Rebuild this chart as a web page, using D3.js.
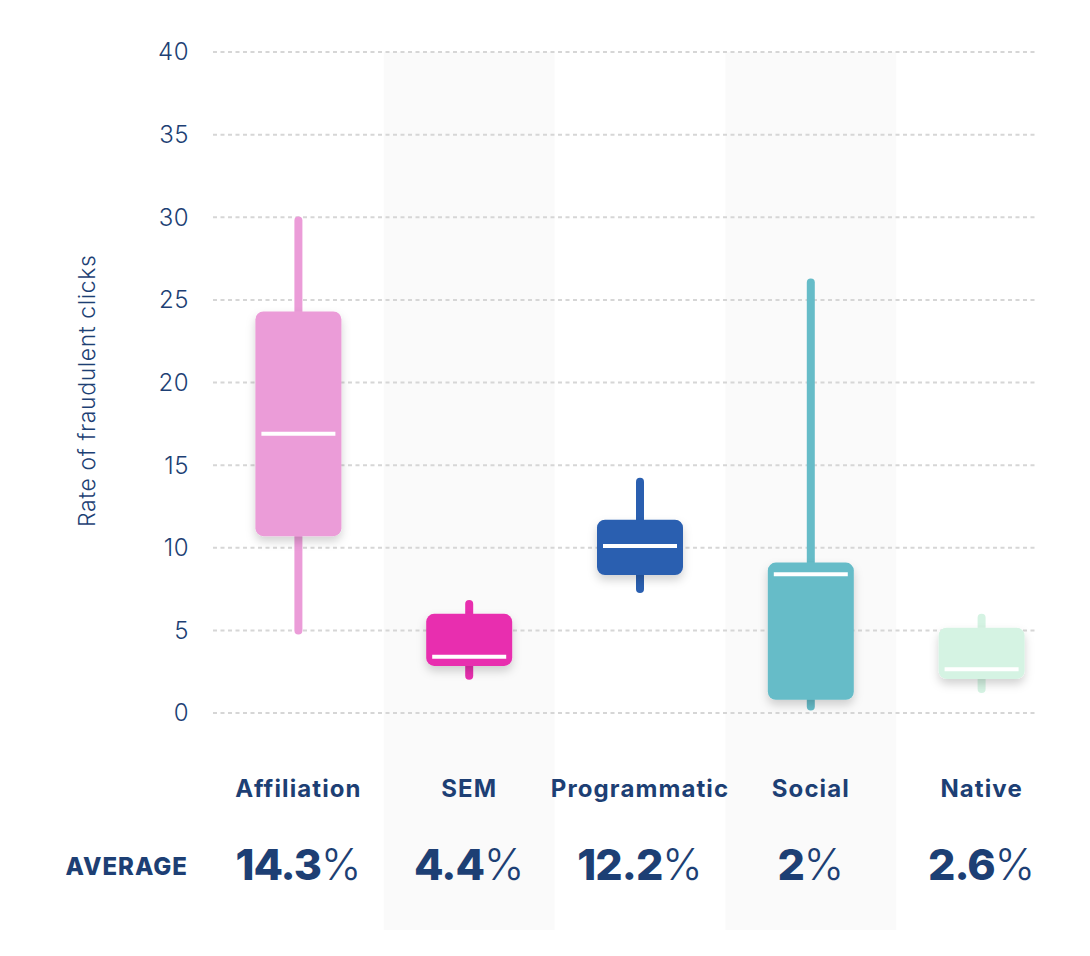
<html>
  <head>
    <title>Rate of fraudulent clicks</title>
    <script src="https://cdn.jsdelivr.net/npm/d3@7"></script>
    <style type="text/css">

body {
  margin: 0;
  background: #fff;
  font-family: Inter, "Open Sans", sans-serif;
}

.grid line {
  stroke: #d6d6d6;
  stroke-width: 2px;
  stroke-dasharray: 4 3.5;
}

.tick-label {
  fill: #1d3f74;
  font-size: 24px;
  font-weight: 300;
  letter-spacing: 0.5px;
}

.cat {
  fill: #1d3f74;
  font-size: 24px;
  font-weight: 700;
  letter-spacing: 1.1px;
}

.avg {
  fill: #1d3f74;
  font-size: 43px;
  font-weight: 800;
  letter-spacing: -1px;
}

.avg tspan.pct {
  font-weight: 300;
  letter-spacing: 0;
}

    </style>
  </head>
  <body>
    <script type="text/javascript">

var categories = ["Affiliation", "SEM", "Programmatic", "Social", "Native"];
var whiskerLow  = [5.0, 2.25, 7.5, 0.4, 1.45];
var boxLow      = [10.7, 2.85, 8.35, 0.8, 2.06];
var median      = [16.9, 3.4, 10.1, 8.4, 2.64];
var boxHigh     = [24.3, 6.0, 11.7, 9.1, 5.16];
var whiskerHigh = [29.8, 6.6, 14.0, 26.05, 5.77];
var averages    = ["14.3", "4.4", "12.2", "2", "2.6"];
var colors      = ["#eb9cd8", "#e82faf", "#2a5fb0", "#66bcc8", "#d5f3e3"];
var yTicks      = [0, 5, 10, 15, 20, 25, 30, 35, 40];

var data = categories.map(function(c, i) {
  return {name: c, lo: whiskerLow[i], q1: boxLow[i], med: median[i],
          q3: boxHigh[i], hi: whiskerHigh[i], avg: averages[i], color: colors[i]};
});

var w = 1090,
    h = 956,
    x = d3.scaleBand().domain(categories).range([213, 1067]).padding(0),
    y = d3.scaleLinear().domain([0, 40]).range([713, 52]),
    boxW = 86;

var svg = d3.select("body")
  .append("svg")
    .attr("width", w)
    .attr("height", h);

var defs = svg.append("defs");
var f = defs.append("filter")
    .attr("id", "shadow")
    .attr("x", "-30%").attr("y", "-30%")
    .attr("width", "160%").attr("height", "160%");
f.append("feDropShadow")
    .attr("dx", 0).attr("dy", 5)
    .attr("stdDeviation", 5)
    .attr("flood-color", "#000")
    .attr("flood-opacity", 0.18);

// alternating shaded columns
svg.selectAll("rect.band")
    .data(data.filter(function(d, i) { return i % 2 === 1; }))
  .enter().append("rect")
    .attr("class", "band")
    .attr("x", function(d) { return x(d.name); })
    .attr("y", y(40))
    .attr("width", x.bandwidth())
    .attr("height", 930 - y(40))
    .attr("fill", "#fafafa");

// grid
var grid = svg.append("g").attr("class", "grid");
grid.selectAll("line")
    .data(yTicks)
  .enter().append("line")
    .attr("x1", 213)
    .attr("x2", 1035)
    .attr("y1", y)
    .attr("y2", y);

svg.selectAll("text.tick-label")
    .data(yTicks)
  .enter().append("text")
    .attr("class", "tick-label")
    .attr("x", 189)
    .attr("y", y)
    .attr("dy", ".35em")
    .attr("text-anchor", "end")
    .text(function(d) { return d; });

svg.append("text")
    .attr("class", "tick-label")
    .attr("transform", "translate(95," + y(19.5) + ") rotate(-90)")
    .attr("text-anchor", "middle")
    .style("font-size", "23px")
    .style("letter-spacing", "0.6px")
    .text("Rate of fraudulent clicks");

// boxes
var g = svg.selectAll("g.box")
    .data(data)
  .enter().append("g")
    .attr("class", "box")
    .attr("transform", function(d) { return "translate(" + (x(d.name) + x.bandwidth() / 2) + ",0)"; });

g.append("line")
    .attr("x1", 0).attr("x2", 0)
    .attr("y1", function(d) { return y(d.lo); })
    .attr("y2", function(d) { return y(d.hi); })
    .attr("stroke", function(d) { return d.color; })
    .attr("stroke-width", 8)
    .attr("stroke-linecap", "round");

g.append("rect")
    .attr("x", -boxW / 2)
    .attr("y", function(d) { return y(d.q3); })
    .attr("width", boxW)
    .attr("height", function(d) { return y(d.q1) - y(d.q3); })
    .attr("rx", 8)
    .attr("fill", function(d) { return d.color; })
    .attr("filter", "url(#shadow)");

g.append("line")
    .attr("x1", -boxW / 2 + 6).attr("x2", boxW / 2 - 6)
    .attr("y1", function(d) { return y(d.med); })
    .attr("y2", function(d) { return y(d.med); })
    .attr("stroke", "#fff")
    .attr("stroke-width", 4);

// category labels
g.append("text")
    .attr("class", "cat")
    .attr("y", 797)
    .attr("text-anchor", "middle")
    .text(function(d) { return d.name; });

// averages
var avg = g.append("text")
    .attr("class", "avg")
    .attr("y", 880)
    .attr("text-anchor", "middle");
avg.append("tspan").text(function(d) { return d.avg; });
avg.append("tspan").attr("class", "pct").text("%");

svg.append("text")
    .attr("class", "cat")
    .attr("x", 188)
    .attr("y", 875)
    .attr("text-anchor", "end")
    .style("font-size", "24px")
    .style("font-weight", 800)
    .style("letter-spacing", "1px")
    .text("AVERAGE");

    </script>
  </body>
</html>
